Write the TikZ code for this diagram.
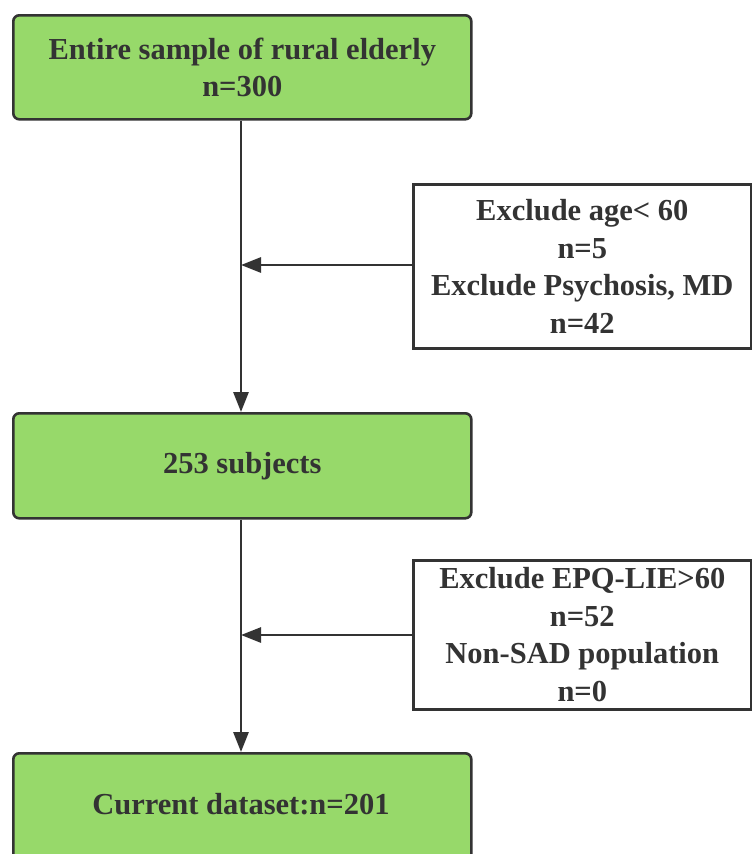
\documentclass[tikz,border=0pt]{standalone}
\usepackage{fontspec}
\setmainfont{Liberation Serif}
\usetikzlibrary{arrows.meta}
\definecolor{boxgreen}{HTML}{97D96A}
\definecolor{ink}{HTML}{333333}
\tikzset{
  px/.style={x=1pt,y=-1pt},
  lbl/.style={text=ink, font=\fontsize{30.5}{37.5}\selectfont\bfseries},
  greenbox/.style={draw=ink, line width=2.6pt, fill=boxgreen, rounded corners=6pt, anchor=north west, inner sep=0pt, align=center, lbl},
  whitebox/.style={draw=ink, line width=2.6pt, fill=white, anchor=north west, inner sep=0pt, align=center, lbl},
  conn/.style={draw=ink, line width=2.8pt, -{Triangle[length=20pt,width=15pt]}},
}
\begin{document}
\begin{tikzpicture}[px]
\useasboundingbox (0,0) rectangle (752,854);
\node[greenbox, minimum width=458pt, minimum height=104pt] (b1) at (12,14) {Entire sample of rural elderly\\n=300};
\node[greenbox, minimum width=458pt, minimum height=105pt] (b2) at (12,412) {253 subjects};
\node[greenbox, minimum width=458pt, minimum height=120pt] (b3) at (12,752) {};
\node[lbl] (b3t) at (241,804) {Current dataset:n=201};
\node[whitebox, minimum width=338pt, minimum height=164pt] (e1) at (412,183) {Exclude age< 60\\n=5\\Exclude Psychosis, MD\\n=42};
\node[whitebox, minimum width=338pt, minimum height=149pt] (e2) at (412,559) {Exclude EPQ-LIE>60\\n=52\\Non-SAD population\\n=0};
\coordinate (j1) at (241,265);
\coordinate (j2) at (241,635);
\draw[conn] (b1.south -| j1) -- (b2.north -| j1);
\draw[conn] (b2.south -| j2) -- (b3.north -| j2);
\draw[conn] (e1.west |- j1) -- (j1);
\draw[conn] (e2.west |- j2) -- (j2);
\end{tikzpicture}
\end{document}
